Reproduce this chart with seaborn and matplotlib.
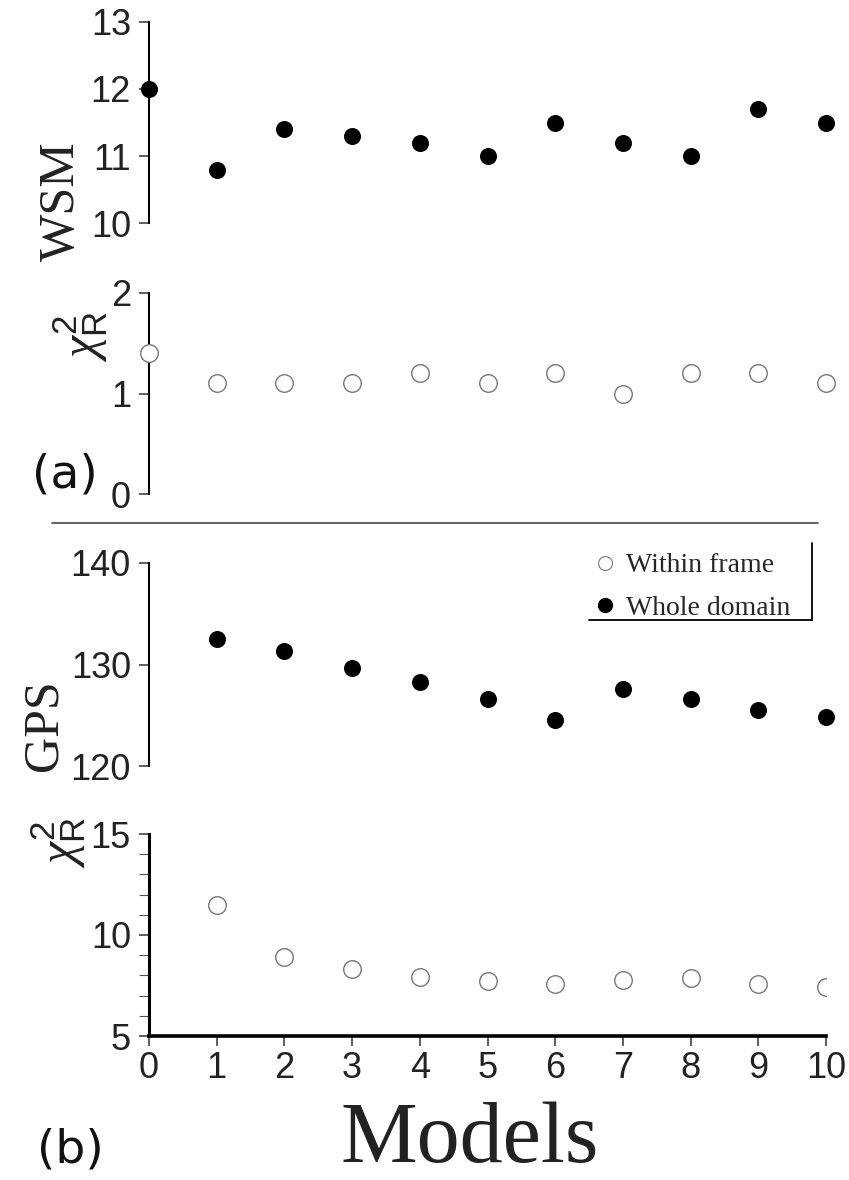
import numpy as np
import pandas as pd
import matplotlib
matplotlib.use("Agg")
import matplotlib.pyplot as plt
from matplotlib.lines import Line2D
import seaborn as sns

sns.set_theme(style="ticks")
plt.rcParams['font.family'] = ['Liberation Sans', 'DejaVu Sans']
plt.rcParams['mathtext.fontset'] = 'custom'
plt.rcParams['mathtext.rm'] = 'Liberation Sans'
plt.rcParams['mathtext.it'] = 'Liberation Serif:italic'

# values
models = [0, 1, 2, 3, 4, 5, 6, 7, 8, 9, 10]
wsm_whole = [12.0, 10.8, 11.4, 11.3, 11.2, 11.0, 11.5, 11.2, 11.0, 11.7, 11.5]
wsm_chi2 = [1.4, 1.1, 1.1, 1.1, 1.2, 1.1, 1.2, 1.0, 1.2, 1.2, 1.1]

gps_models = [1, 2, 3, 4, 5, 6, 7, 8, 9, 10]
gps_whole = [132.5, 131.3, 129.7, 128.3, 126.6, 124.5, 127.6, 126.6, 125.5, 124.8]
gps_chi2 = [11.5, 8.9, 8.3, 7.9, 7.7, 7.55, 7.75, 7.85, 7.55, 7.45]

W, H = 849, 1180
fig = plt.figure(figsize=(W / 100, H / 100), dpi=100)

def px(x, y):
    return x / W, 1 - y / H

left, right = 149 / W, 826 / W
ax1 = fig.add_axes([left, 1 - 223.3 / H, right - left, (223.3 - 21.7) / H])
ax2 = fig.add_axes([left, 1 - 494.3 / H, right - left, (494.3 - 292.7) / H])
ax3 = fig.add_axes([left, 1 - 766 / H, right - left, (766 - 563) / H])
ax4 = fig.add_axes([left, 1 - 1036 / H, right - left, (1036 - 834) / H])

filled = dict(s=150, color='black', edgecolor='black', linewidth=0)
hollow = dict(s=160, facecolor='white', edgecolor='#777777', linewidth=1.0)

sns.scatterplot(x=models, y=wsm_whole, ax=ax1, clip_on=False, zorder=5, **filled)
sns.scatterplot(x=models, y=wsm_chi2, ax=ax2, clip_on=False, zorder=5, **hollow)
sns.scatterplot(x=gps_models, y=gps_whole, ax=ax3, clip_on=False, zorder=5, **filled)
sns.scatterplot(x=gps_models, y=gps_chi2, ax=ax4, clip_on=True, zorder=5, **hollow)

limits = [(10, 13), (0, 2), (120, 140), (5, 15)]
yticks = [[10, 11, 12, 13], [0, 1, 2], [120, 130, 140], [5, 10, 15]]
for ax, lim, tk in zip([ax1, ax2, ax3, ax4], limits, yticks):
    ax.set_xlim(0, 10)
    ax.set_ylim(*lim)
    ax.set_yticks(tk)
    ax.set_facecolor('none')
    for s in ['top', 'right']:
        ax.spines[s].set_visible(False)
    ax.spines['left'].set_linewidth(1.5)
    ax.spines['left'].set_color('black')
    ax.tick_params(axis='y', direction='out', length=7, width=1.1, pad=6,
                   labelsize=26, color='#333333', labelcolor='#222222')
    ax.set_xlabel('')
    ax.set_ylabel('')

for ax in [ax1, ax2, ax3]:
    ax.spines['bottom'].set_visible(False)
    ax.tick_params(axis='x', bottom=False, labelbottom=False)

ax4.spines['left'].set_linewidth(2.2)
ax4.spines['bottom'].set_linewidth(2.6)
ax4.spines['bottom'].set_color('black')
ax4.set_xticks(models)
ax4.set_yticks(np.arange(5, 16, 1), minor=True)
ax4.tick_params(axis='x', direction='out', length=7, width=1.1, pad=4,
                labelsize=26, color='#333333', labelcolor='#222222')
ax4.tick_params(axis='y', which='minor', direction='out', length=7, width=0.8,
                color='#555555')

serif = ['Liberation Serif', 'DejaVu Serif']
chi_label = r'$\chi^{\rm 2}_{\rm R}$'
fig.text(*px(62, 201), 'WSM', rotation=90, ha='center', va='center',
         fontsize=36, family=serif, color='#222222')
fig.text(*px(44, 725), 'GPS', rotation=90, ha='center', va='center',
         fontsize=36, family=serif, color='#222222')
fig.text(*px(80, 336), chi_label, rotation=90, ha='center', va='center',
         fontsize=36, color='#222222')
fig.text(*px(58, 842), chi_label, rotation=90, ha='center', va='center',
         fontsize=36, color='#222222')
fig.text(*px(65, 475), '(a)', ha='center', va='center', fontsize=34,
         family=['DejaVu Sans'], color='#111111')
fig.text(*px(70, 1150), '(b)', ha='center', va='center', fontsize=34,
         family=['DejaVu Sans'], color='#111111')
fig.text(*px(470, 1162), 'Models', ha='center', va='baseline', fontsize=62,
         family=serif, color='#222222')

# separator between (a) and (b)
fig.add_artist(Line2D([52 / W, 818 / W], [1 - 523 / H] * 2, color='#555555', lw=1.3))

# legend
handles = [Line2D([], [], ls='none', marker='o', markersize=10, markerfacecolor='white',
                  markeredgecolor='#777777', markeredgewidth=0.8),
           Line2D([], [], ls='none', marker='o', markersize=10, markerfacecolor='black',
                  markeredgecolor='black')]
fig.legend(handles, ['Within frame', 'Whole domain'], loc='center left',
           bbox_to_anchor=px(577, 587), frameon=False, handletextpad=0.25,
           handlelength=1.0, labelspacing=0.62, borderpad=0,
           prop={'family': serif, 'size': 20})
fig.add_artist(Line2D([812 / W] * 2, [1 - 543 / H, 1 - 620 / H], color='black', lw=1.3))
fig.add_artist(Line2D([589 / W, 812 / W], [1 - 620 / H] * 2, color='black', lw=1.3))

fig.savefig('out.png', dpi=100)
